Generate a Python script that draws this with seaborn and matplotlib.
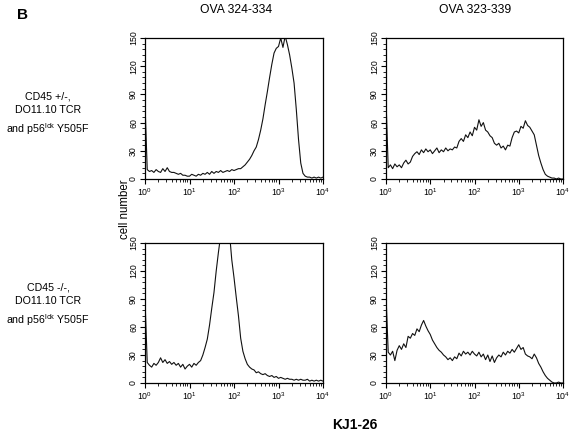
import numpy as np
import matplotlib
matplotlib.use("Agg")
import matplotlib.pyplot as plt
from matplotlib.ticker import MultipleLocator, LogLocator, NullFormatter
import seaborn as sns

# channel positions (decades of KJ1-26 fluorescence)
decades = np.linspace(0, 4, 81)
fluor = 10 ** decades

# cell number per channel
wt_324 = [80, 10, 8, 9, 7, 10, 8, 7, 11, 8,
          12, 8, 7, 7, 6, 5, 6, 4, 4, 3,
          3, 5, 4, 3, 5, 4, 6, 5, 7, 5,
          8, 6, 8, 7, 9, 7, 8, 9, 8, 10,
          9, 10, 11, 11, 13, 15, 18, 21, 25, 30,
          34, 42, 52, 64, 79, 93, 108, 122, 134, 139,
          141, 150, 140, 152, 143, 132, 118, 102, 74, 42,
          17, 6, 3, 2, 2, 1, 2, 1, 2, 1,
          2]
wt_323 = [84, 12, 15, 11, 16, 13, 15, 12, 17, 20,
          16, 18, 24, 27, 29, 26, 31, 28, 32, 29,
          31, 27, 30, 33, 28, 31, 29, 33, 30, 32,
          31, 34, 33, 40, 43, 40, 47, 44, 50, 46,
          55, 52, 63, 56, 60, 52, 50, 46, 44, 38,
          36, 38, 33, 35, 31, 36, 35, 44, 50, 51,
          49, 56, 54, 62, 57, 55, 51, 47, 36, 25,
          17, 10, 5, 3, 2, 1, 1, 0, 1, 0,
          0]
ko_324 = [89, 22, 19, 17, 21, 19, 22, 27, 22, 25,
          21, 23, 20, 22, 19, 21, 17, 20, 15, 18,
          20, 17, 21, 19, 22, 24, 30, 38, 47, 62,
          80, 97, 120, 140, 158, 172, 180, 176, 160, 132,
          113, 92, 72, 48, 34, 26, 20, 17, 15, 14,
          11, 12, 10, 9, 10, 8, 7, 8, 6, 7,
          5, 6, 5, 4, 5, 4, 4, 3, 4, 3,
          4, 3, 3, 4, 2, 3, 2, 3, 2, 3,
          2]
ko_323 = [94, 33, 30, 34, 24, 35, 40, 36, 42, 38,
          50, 48, 53, 51, 58, 55, 62, 67, 61, 56,
          52, 46, 42, 38, 35, 33, 30, 28, 25, 27,
          24, 28, 26, 32, 29, 34, 31, 33, 30, 34,
          31, 29, 33, 28, 31, 25, 30, 23, 29, 22,
          27, 30, 28, 33, 30, 34, 32, 36, 33, 37,
          41, 36, 38, 31, 29, 28, 26, 31, 27, 21,
          17, 12, 8, 5, 3, 1, 0, 0, 1, 0,
          0]

col_titles = ["OVA 324-334", "OVA 323-339"]
row_labels = ["CD45 +/-,\nDO11.10 TCR\nand p56$^{\\mathrm{lck}}$ Y505F",
              "CD45 -/-,\nDO11.10 TCR\nand p56$^{\\mathrm{lck}}$ Y505F"]
yticks = [0, 30, 60, 90, 120, 150]

sns.set_style("ticks")
plt.rcParams["font.family"] = ["Liberation Sans", "DejaVu Sans"]
plt.rcParams["mathtext.fontset"] = "custom"
plt.rcParams["mathtext.rm"] = "Liberation Sans"
plt.rcParams["mathtext.it"] = "Liberation Sans:italic"
plt.rcParams["mathtext.bf"] = "Liberation Sans:bold"
for key in ["text.color", "axes.labelcolor", "xtick.color", "ytick.color"]:
    plt.rcParams[key] = "black"

fig = plt.figure(figsize=(5.73, 4.34), dpi=100)
W, H = 573, 434

def add_ax(x0, x1, y0, y1):
    return fig.add_axes([x0 / W, 1 - y1 / H, (x1 - x0) / W, (y1 - y0) / H])

axes = [[add_ax(145, 323, 38, 179), add_ax(386, 563, 38, 179)],
        [add_ax(145, 323, 243, 383), add_ax(386, 563, 243, 383)]]
data = [[wt_324, wt_323], [ko_324, ko_323]]

for r in range(2):
    for c in range(2):
        ax = axes[r][c]
        sns.lineplot(x=fluor, y=data[r][c], ax=ax, color="#111111", lw=0.8)
        ax.set_xscale("log")
        ax.set_xlim(1, 1e4)
        ax.set_ylim(0, 150)
        ax.set_yticks(yticks)
        ax.yaxis.set_minor_locator(MultipleLocator(6))
        ax.xaxis.set_major_locator(LogLocator(base=10, numticks=10))
        ax.xaxis.set_minor_locator(LogLocator(base=10, subs=np.arange(2, 10), numticks=10))
        ax.xaxis.set_minor_formatter(NullFormatter())
        ax.tick_params(which="major", direction="out", length=3.5, width=0.8,
                       labelsize=6.3, pad=1.5)
        ax.tick_params(which="minor", direction="out", length=2, width=0.6)
        for lbl in ax.get_yticklabels():
            lbl.set_rotation(90)
            lbl.set_va("center")
        for s in ax.spines.values():
            s.set_linewidth(0.9)
            s.set_color("black")
        ax.set_xlabel("")
        ax.set_ylabel("")

fig.text(22 / W, 1 - 15 / H, "B", fontsize=11, fontweight="bold",
         ha="center", va="center")
fig.text(236 / W, 1 - 10 / H, col_titles[0], fontsize=8.7, ha="center", va="center")
fig.text(475 / W, 1 - 10 / H, col_titles[1], fontsize=8.7, ha="center", va="center")
fig.text(48 / W, 1 - 114 / H, row_labels[0], fontsize=7.7, ha="center",
         va="center", linespacing=1.5)
fig.text(48 / W, 1 - 305 / H, row_labels[1], fontsize=7.7, ha="center",
         va="center", linespacing=1.5)
fig.text(125 / W, 1 - 209 / H, "cell number", fontsize=8.3, rotation=90,
         ha="center", va="center")
fig.text(355 / W, 1 - 425 / H, "KJ1-26", fontsize=10, fontweight="bold",
         ha="center", va="center")

fig.savefig("out.png", dpi=100)
